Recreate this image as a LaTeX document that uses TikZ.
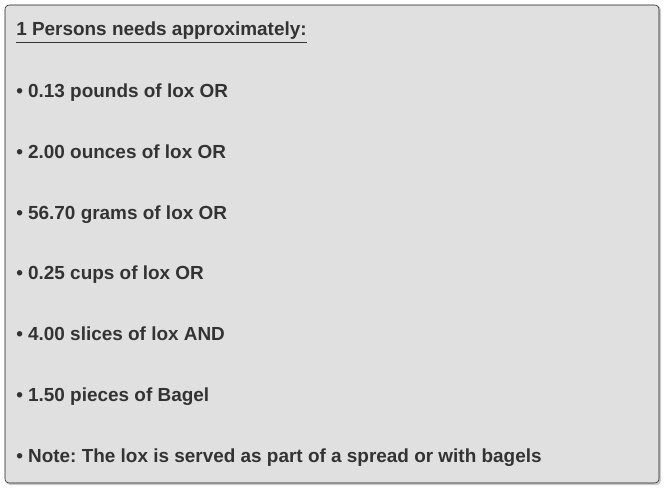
\documentclass[tikz,border=0pt]{standalone}
\usepackage{fontspec}
\setmainfont{Liberation Sans}
\frenchspacing
\definecolor{txt}{HTML}{333333}
\definecolor{bg}{HTML}{E0E0E0}
\tikzset{line/.style={anchor=base west,text=txt,font=\fontsize{14.2pt}{16pt}\selectfont\bfseries,inner sep=0pt}}
\begin{document}
\begin{tikzpicture}[x=0.75pt,y=-0.75pt]
\useasboundingbox (0,0) rectangle (665,489);
\fill[black!20,rounded corners=3] (6,6) rectangle (661,485);
\draw[fill=bg,draw=black!90,rounded corners=3] (5,5) rectangle (659,483);
\node[line] (t) at (16,36) {\underline{1 Persons needs approximately:}};
\node[line] (a) at (16,97) {• 0.13 pounds of lox OR};
\node[line] (b) at (16,158) {• 2.00 ounces of lox OR};
\node[line] (c) at (16,219) {• 56.70 grams of lox OR};
\node[line] (d) at (16,279) {• 0.25 cups of lox OR};
\node[line] (e) at (16,340) {• 4.00 slices of lox AND};
\node[line] (f) at (16,401) {• 1.50 pieces of Bagel};
\node[line] (g) at (16,462) {• Note: The lox is served as part of a spread or with bagels};
\end{tikzpicture}
\end{document}
